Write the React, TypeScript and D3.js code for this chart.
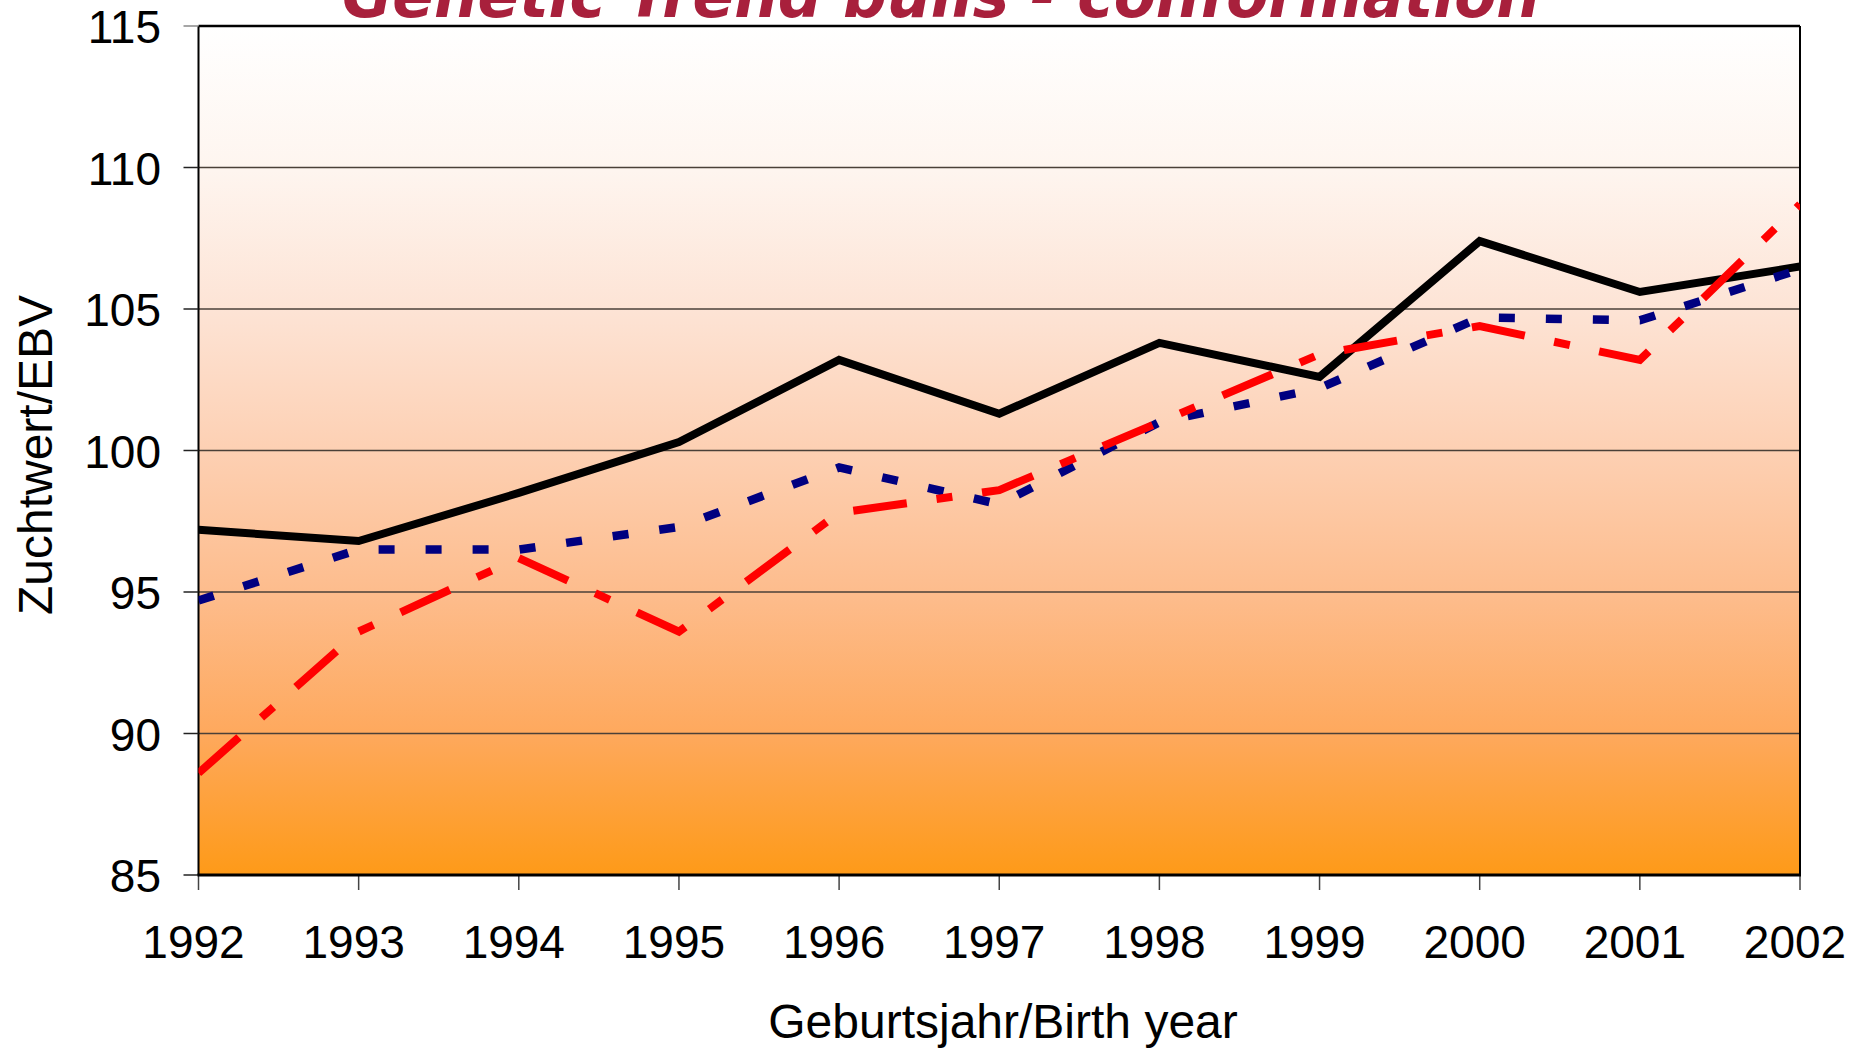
import React from "react";
import * as d3 from "d3";

const years = [1992, 1993, 1994, 1995, 1996, 1997, 1998, 1999, 2000, 2001, 2002];
const seriesBlack = [97.2, 96.8, 98.5, 100.3, 103.2, 101.3, 103.8, 102.6, 107.4, 105.6, 106.5];
const seriesBlue = [94.7, 96.5, 96.5, 97.3, 99.4, 98.1, 101.0, 102.2, 104.7, 104.6, 106.4];
const seriesRed = [88.6, 93.6, 96.2, 93.6, 97.8, 98.6, 101.0, 103.4, 104.4, 103.2, 108.7];
const yTicks = [85, 90, 95, 100, 105, 110, 115];
const titleText = "Genetic Trend bulls - conformation";
const xTitle = "Geburtsjahr/Birth year";
const yTitle = "Zuchtwert/EBV";

const W = 1864;
const H = 1048;
const L = 198.5, R = 1800, T = 26, B = 875;

export default function App() {
  const x = d3.scaleLinear().domain([1992, 2002]).range([L, R]);
  const y = d3.scaleLinear().domain([85, 115]).range([B, T]);
  const line = d3
    .line<number>()
    .x((_, i) => x(years[i]))
    .y((d) => y(d));

  const font = "'Liberation Sans', Arial, sans-serif";

  return (
    <svg
      width={W}
      height={H}
      style={{ position: "absolute", left: 0, top: 0, background: "#fff" }}
    >
      <defs>
        <linearGradient id="bg" x1="0" y1="0" x2="0" y2="1">
          <stop offset="0" stopColor="#ffffff" />
          <stop offset="0.17" stopColor="#fef5ef" />
          <stop offset="0.33" stopColor="#fde4d6" />
          <stop offset="0.5" stopColor="#fdd0b3" />
          <stop offset="0.67" stopColor="#fdbc8c" />
          <stop offset="0.83" stopColor="#fea95e" />
          <stop offset="1" stopColor="#fe9a18" />
        </linearGradient>
        <clipPath id="plotclip">
          <rect x={L} y={T} width={R - L} height={B - T} />
        </clipPath>
      </defs>

      <text
        x={342}
        y={17}
        textLength={1198}
        lengthAdjust="spacingAndGlyphs"
        fontFamily="'DejaVu Sans', sans-serif"
        fontStyle="italic"
        fontWeight={600}
        fontSize={64}
        fill="#a8203c"
      >
        {titleText}
      </text>

      <rect x={L} y={T} width={R - L} height={B - T} fill="url(#bg)" />

      {yTicks
        .filter((v) => v !== 85 && v !== 115)
        .map((v) => (
          <line
            key={"g" + v}
            x1={L}
            x2={R}
            y1={y(v)}
            y2={y(v)}
            stroke="#4a4038"
            strokeWidth={1.5}
          />
        ))}

      {/* frame */}
      <line x1={L} x2={R} y1={T} y2={T} stroke="#000" strokeWidth={2.5} />
      <line x1={R} x2={R} y1={T} y2={B} stroke="#000" strokeWidth={2} />
      <line x1={L} x2={L} y1={T} y2={B} stroke="#000" strokeWidth={2} />

      {/* y ticks & labels */}
      {yTicks.map((v) => (
        <g key={"y" + v}>
          <line
            x1={L - 15}
            x2={L}
            y1={y(v)}
            y2={y(v)}
            stroke={v === 115 ? "#888" : "#222"}
            strokeWidth={1.5}
          />
          <text
            x={161}
            y={y(v) + 17}
            textAnchor="end"
            fontFamily={font}
            fontSize={46}
            fill="#000"
          >
            {v}
          </text>
        </g>
      ))}

      {/* x ticks & labels */}
      {years.map((yr) => (
        <g key={"x" + yr}>
          <line
            x1={x(yr)}
            x2={x(yr)}
            y1={B}
            y2={B + 15}
            stroke="#444"
            strokeWidth={1.5}
          />
          <text
            x={x(yr) - 5}
            y={958}
            textAnchor="middle"
            fontFamily={font}
            fontSize={46}
            fill="#000"
          >
            {yr}
          </text>
        </g>
      ))}

      <g clipPath="url(#plotclip)">
        <path
          d={line(seriesBlack) || ""}
          fill="none"
          stroke="#000"
          strokeWidth={8}
          strokeLinejoin="miter"
        />
        <path
          d={line(seriesBlue) || ""}
          fill="none"
          stroke="#000080"
          strokeWidth={8.5}
          strokeDasharray="16 31"
          strokeLinejoin="miter"
        />
        <path
          d={line(seriesRed) || ""}
          fill="none"
          stroke="#ff0000"
          strokeWidth={8}
          strokeDasharray="54 30 16 30"
          strokeLinejoin="miter"
        />
      </g>

      <line x1={L - 1} x2={R + 1} y1={B} y2={B} stroke="#000" strokeWidth={3} />

      <text
        x={1003}
        y={1038}
        textAnchor="middle"
        fontFamily={font}
        fontSize={48}
        fill="#000"
      >
        {xTitle}
      </text>
      <text
        transform="translate(52,455) rotate(-90)"
        textAnchor="middle"
        fontFamily={font}
        fontSize={48}
        fill="#000"
      >
        {yTitle}
      </text>
    </svg>
  );
}
